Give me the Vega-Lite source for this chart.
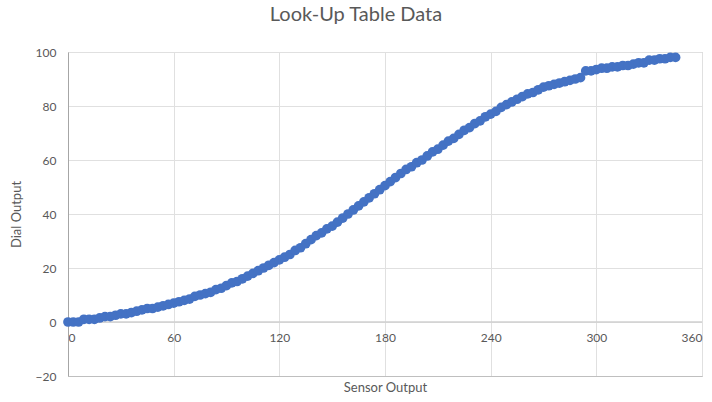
{
  "$schema": "https://vega.github.io/schema/vega-lite/v6.json",
  "width": 634,
  "height": 324,
  "autosize": {"type": "none"},
  "padding": {"left": 68, "top": 52, "right": 10, "bottom": 26},
  "background": "white",
  "config": {
    "font": "Lato",
    "view": {"stroke": "#bfbfbf", "strokeWidth": 1}
  },
  "title": {
    "text": "Look-Up Table Data",
    "fontSize": 20,
    "fontWeight": "normal",
    "color": "#595959",
    "font": "Lato",
    "anchor": "middle",
    "offset": 21,
    "dx": -29
  },
  "data": {
    "values": [
      {"sensor": 0, "dial": 0}, {"sensor": 3, "dial": 0}, {"sensor": 6, "dial": 0},
      {"sensor": 9, "dial": 1}, {"sensor": 12, "dial": 1}, {"sensor": 15, "dial": 1},
      {"sensor": 18, "dial": 1.5}, {"sensor": 21, "dial": 2}, {"sensor": 24, "dial": 2},
      {"sensor": 27, "dial": 2.5}, {"sensor": 30, "dial": 3}, {"sensor": 33, "dial": 3},
      {"sensor": 36, "dial": 3.5}, {"sensor": 39, "dial": 4}, {"sensor": 42, "dial": 4.5},
      {"sensor": 45, "dial": 5}, {"sensor": 48, "dial": 5}, {"sensor": 51, "dial": 5.5},
      {"sensor": 54, "dial": 6}, {"sensor": 57, "dial": 6.5}, {"sensor": 60, "dial": 7},
      {"sensor": 63, "dial": 7.5}, {"sensor": 66, "dial": 8}, {"sensor": 69, "dial": 8.5},
      {"sensor": 72, "dial": 9.5}, {"sensor": 75, "dial": 10}, {"sensor": 78, "dial": 10.5},
      {"sensor": 81, "dial": 11}, {"sensor": 84, "dial": 12}, {"sensor": 87, "dial": 12.5},
      {"sensor": 90, "dial": 13.5}, {"sensor": 93, "dial": 14.5}, {"sensor": 96, "dial": 15},
      {"sensor": 99, "dial": 16}, {"sensor": 102, "dial": 17}, {"sensor": 105, "dial": 18},
      {"sensor": 108, "dial": 19}, {"sensor": 111, "dial": 20}, {"sensor": 114, "dial": 21},
      {"sensor": 117, "dial": 22}, {"sensor": 120, "dial": 23}, {"sensor": 123, "dial": 24},
      {"sensor": 126, "dial": 25}, {"sensor": 129, "dial": 26.5}, {"sensor": 132, "dial": 27.5},
      {"sensor": 135, "dial": 29}, {"sensor": 138, "dial": 30.5}, {"sensor": 141, "dial": 32},
      {"sensor": 144, "dial": 33}, {"sensor": 147, "dial": 34.5}, {"sensor": 150, "dial": 35.5},
      {"sensor": 153, "dial": 37}, {"sensor": 156, "dial": 38.5}, {"sensor": 159, "dial": 40},
      {"sensor": 162, "dial": 41.5}, {"sensor": 165, "dial": 43}, {"sensor": 168, "dial": 44.5},
      {"sensor": 171, "dial": 46}, {"sensor": 174, "dial": 47.5}, {"sensor": 177, "dial": 49},
      {"sensor": 180, "dial": 50.5}, {"sensor": 183, "dial": 52}, {"sensor": 186, "dial": 53.5},
      {"sensor": 189, "dial": 55}, {"sensor": 192, "dial": 56.5}, {"sensor": 195, "dial": 57.5},
      {"sensor": 198, "dial": 59}, {"sensor": 201, "dial": 60}, {"sensor": 204, "dial": 61.5},
      {"sensor": 207, "dial": 63}, {"sensor": 210, "dial": 64}, {"sensor": 213, "dial": 65.5},
      {"sensor": 216, "dial": 67}, {"sensor": 219, "dial": 68}, {"sensor": 222, "dial": 69.5},
      {"sensor": 225, "dial": 71}, {"sensor": 228, "dial": 72}, {"sensor": 231, "dial": 73.5},
      {"sensor": 234, "dial": 74.5}, {"sensor": 237, "dial": 76}, {"sensor": 240, "dial": 77},
      {"sensor": 243, "dial": 78}, {"sensor": 246, "dial": 79.5}, {"sensor": 249, "dial": 80.5},
      {"sensor": 252, "dial": 81.5}, {"sensor": 255, "dial": 82.5}, {"sensor": 258, "dial": 83.5},
      {"sensor": 261, "dial": 84.5}, {"sensor": 264, "dial": 85}, {"sensor": 267, "dial": 86},
      {"sensor": 270, "dial": 87}, {"sensor": 273, "dial": 87.5}, {"sensor": 276, "dial": 88},
      {"sensor": 279, "dial": 88.5}, {"sensor": 282, "dial": 89}, {"sensor": 285, "dial": 89.5},
      {"sensor": 288, "dial": 90}, {"sensor": 291, "dial": 90.5}, {"sensor": 294, "dial": 93},
      {"sensor": 297, "dial": 93}, {"sensor": 300, "dial": 93.5}, {"sensor": 303, "dial": 94},
      {"sensor": 306, "dial": 94}, {"sensor": 309, "dial": 94.5}, {"sensor": 312, "dial": 94.5},
      {"sensor": 315, "dial": 95}, {"sensor": 318, "dial": 95}, {"sensor": 321, "dial": 95.5},
      {"sensor": 324, "dial": 96}, {"sensor": 327, "dial": 96}, {"sensor": 330, "dial": 97},
      {"sensor": 333, "dial": 97}, {"sensor": 336, "dial": 97.5}, {"sensor": 339, "dial": 97.5},
      {"sensor": 342, "dial": 98}, {"sensor": 345, "dial": 98}
    ]
  },
  "layer": [
    {
      "data": {"values": [{"zero": 0}]},
      "mark": {"type": "rule", "color": "#d0d0d0", "strokeWidth": 1.5},
      "encoding": {"y": {"field": "zero", "type": "quantitative", "scale": {"domain": [-20, 100]}}}
    },
    {
      "mark": {"type": "circle", "size": 95, "color": "#4472C4", "opacity": 1},
      "encoding": {
        "x": {
          "field": "sensor",
          "type": "quantitative",
          "title": "Sensor Output",
          "scale": {"domain": [0, 360], "nice": false, "zero": false},
          "axis": {
            "values": [0, 60, 120, 180, 240, 300, 360],
            "grid": true,
            "gridColor": "#e0e0e0",
            "domain": true,
            "domainColor": "#bfbfbf",
            "ticks": false,
            "labelPadding": -44,
            "labelFontSize": 12,
            "labelColor": "#595959",
            "labelFont": "Lato",
            "titleFontSize": 13,
            "titleFontWeight": "normal",
            "titleColor": "#595959",
            "titleFont": "Lato",
            "titlePadding": 5
          }
        },
        "y": {
          "field": "dial",
          "type": "quantitative",
          "title": "Dial Output",
          "scale": {"domain": [-20, 100], "nice": false, "zero": false},
          "axis": {
            "values": [-20, 0, 20, 40, 60, 80, 100],
            "grid": true,
            "gridColor": "#e0e0e0",
            "domain": true,
            "domainColor": "#a6a6a6",
            "ticks": false,
            "labelPadding": 12,
            "labelFontSize": 12,
            "labelColor": "#595959",
            "labelFont": "Lato",
            "titleFontSize": 13,
            "titleFontWeight": "normal",
            "titleColor": "#595959",
            "titleFont": "Lato",
            "titlePadding": 12
          }
        }
      }
    }
  ]
}
